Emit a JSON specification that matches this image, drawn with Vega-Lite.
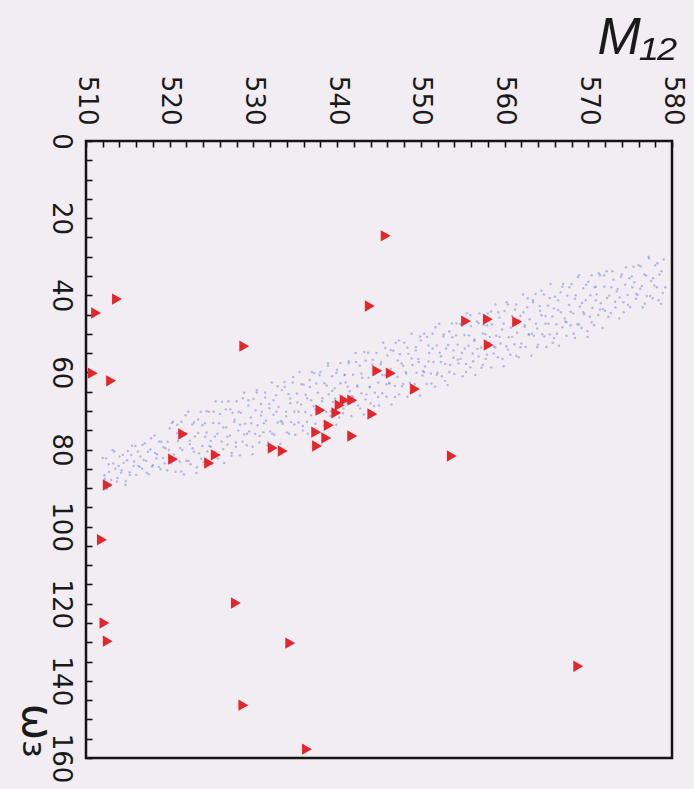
{
"$schema": "https://vega.github.io/schema/vega-lite/v6.json",
"width": 586, "height": 617,
"autosize": {"type": "none"},
"padding": {"left": 86, "top": 141, "right": 22, "bottom": 31},
"background": "#f1edf2",
"config": {"view": {"stroke": "#141414", "strokeWidth": 2.5}},
"datasets": {
 "cloud": [
{"m":512.0,"w":82.2},{"m":512.2,"w":86.7},{"m":512.5,"w":90.2},{"m":512.7,"w":83.8},{"m":513.0,"w":87.9},{"m":513.2,"w":80.2},{"m":513.5,"w":85.0},{"m":513.7,"w":88.3},{"m":514.0,"w":81.8},{"m":514.2,"w":86.0},{"m":514.5,"w":83.5},{"m":514.7,"w":89.2},{"m":515.0,"w":80.4},{"m":515.2,"w":85.9},{"m":515.5,"w":79.0},{"m":515.7,"w":84.3},{"m":516.0,"w":86.6},{"m":516.2,"w":80.6},{"m":516.5,"w":81.8},{"m":516.7,"w":85.0},{"m":517.0,"w":78.4},{"m":517.2,"w":82.9},{"m":517.5,"w":86.4},{"m":517.7,"w":80.0},{"m":518.0,"w":84.1},{"m":518.2,"w":76.4},{"m":518.5,"w":81.2},{"m":518.7,"w":84.5},{"m":519.0,"w":78.0},{"m":519.2,"w":82.2},{"m":519.5,"w":79.7},{"m":519.7,"w":85.4},
{"m":520.0,"w":74.5},{"m":520.2,"w":83.6},{"m":520.4,"w":72.8},
{"m":520.5,"w":81.3},{"m":520.7,"w":85.8},{"m":520.9,"w":75.8},
{"m":521.0,"w":77.8},{"m":521.2,"w":83.1},{"m":521.4,"w":72.8},
{"m":521.5,"w":80.1},{"m":521.7,"w":86.5},{"m":521.9,"w":75.8},
{"m":522.0,"w":82.9},{"m":522.2,"w":70.2},{"m":522.4,"w":78.6},
{"m":522.5,"w":83.8},{"m":522.7,"w":73.5},{"m":522.9,"w":80.6},
{"m":523.0,"w":76.6},{"m":523.2,"w":86.1},{"m":523.4,"w":72.2},
{"m":523.5,"w":81.0},{"m":523.7,"w":70.2},{"m":523.9,"w":79.1},
{"m":524.0,"w":83.2},{"m":524.2,"w":73.2},{"m":524.4,"w":75.6},
{"m":524.5,"w":80.5},{"m":524.7,"w":70.2},{"m":524.9,"w":77.8},
{"m":525.0,"w":83.8},{"m":525.2,"w":73.1},{"m":525.4,"w":80.6},
{"m":525.5,"w":67.5},{"m":525.7,"w":75.9},{"m":525.9,"w":81.5},
{"m":526.0,"w":70.8},{"m":526.2,"w":77.9},{"m":526.4,"w":74.3},
{"m":526.5,"w":83.5},{"m":526.7,"w":69.6},{"m":526.9,"w":78.7},
{"m":527.0,"w":67.5},{"m":527.2,"w":76.4},{"m":527.4,"w":80.9},
{"m":527.5,"w":70.5},{"m":527.7,"w":72.9},{"m":527.9,"w":78.2},
{"m":528.0,"w":67.5},{"m":528.2,"w":75.1},{"m":528.4,"w":81.5},
{"m":528.5,"w":70.5},{"m":528.7,"w":78.0},{"m":528.9,"w":65.3},
{"m":529.0,"w":73.3},{"m":529.2,"w":78.9},{"m":529.4,"w":68.6},
{"m":529.5,"w":75.3},{"m":529.7,"w":71.7},{"m":529.9,"w":81.2},
{"m":530.0,"w":66.9},{"m":530.2,"w":76.0},{"m":530.4,"w":65.2},
{"m":530.5,"w":73.7},{"m":530.7,"w":78.2},{"m":530.9,"w":68.2},
{"m":531.0,"w":70.2},{"m":531.2,"w":75.5},{"m":531.4,"w":65.2},
{"m":531.5,"w":72.5},{"m":531.7,"w":78.9},{"m":531.9,"w":68.2},
{"m":532.0,"w":75.3},{"m":532.2,"w":62.6},{"m":532.4,"w":71.0},
{"m":532.5,"w":76.2},{"m":532.7,"w":65.9},{"m":532.9,"w":73.0},
{"m":533.0,"w":69.0},{"m":533.2,"w":78.5},{"m":533.4,"w":64.6},
{"m":533.5,"w":73.3},{"m":533.7,"w":62.5},{"m":533.9,"w":71.4},
{"m":534.0,"w":75.6},{"m":534.2,"w":65.6},{"m":534.4,"w":68.0},
{"m":534.5,"w":72.9},{"m":534.7,"w":62.6},{"m":534.9,"w":70.2},
{"m":535.0,"w":76.2},{"m":535.2,"w":65.5},{"m":535.4,"w":73.0},
{"m":535.5,"w":59.9},{"m":535.7,"w":68.3},{"m":535.9,"w":73.9},
{"m":536.0,"w":63.2},{"m":536.2,"w":70.3},{"m":536.4,"w":66.7},
{"m":536.5,"w":75.9},{"m":536.7,"w":62.0},{"m":536.9,"w":71.1},
{"m":537.0,"w":59.9},{"m":537.2,"w":68.8},{"m":537.4,"w":73.3},
{"m":537.5,"w":62.9},{"m":537.7,"w":65.3},{"m":537.9,"w":70.6},
{"m":538.0,"w":59.9},{"m":538.2,"w":67.5},{"m":538.4,"w":73.9},
{"m":538.5,"w":62.8},{"m":538.7,"w":70.3},{"m":538.9,"w":57.6},
{"m":539.0,"w":65.7},{"m":539.2,"w":71.3},{"m":539.4,"w":61.0},
{"m":539.5,"w":67.7},{"m":539.7,"w":64.1},{"m":539.9,"w":73.6},
{"m":540.0,"w":59.3},{"m":540.2,"w":68.4},{"m":540.4,"w":57.6},
{"m":540.5,"w":66.1},{"m":540.7,"w":70.6},{"m":540.9,"w":60.6},
{"m":541.0,"w":62.6},{"m":541.2,"w":67.9},{"m":541.4,"w":57.6},
{"m":541.5,"w":64.9},{"m":541.7,"w":71.3},{"m":541.9,"w":60.6},
{"m":542.0,"w":67.7},{"m":542.2,"w":55.0},{"m":542.4,"w":63.4},
{"m":542.5,"w":68.6},{"m":542.7,"w":58.3},{"m":542.9,"w":65.4},
{"m":543.0,"w":61.4},{"m":543.2,"w":70.9},{"m":543.4,"w":57.0},
{"m":543.5,"w":65.7},{"m":543.7,"w":54.9},{"m":543.9,"w":63.8},
{"m":544.0,"w":68.0},{"m":544.2,"w":58.0},{"m":544.4,"w":60.4},
{"m":544.5,"w":65.3},{"m":544.7,"w":55.0},{"m":544.9,"w":62.6},
{"m":545.0,"w":68.6},{"m":545.2,"w":57.9},{"m":545.4,"w":65.4},
{"m":545.5,"w":52.3},{"m":545.7,"w":60.7},{"m":545.9,"w":66.3},
{"m":546.0,"w":55.6},{"m":546.2,"w":62.7},{"m":546.4,"w":59.1},
{"m":546.5,"w":68.3},{"m":546.7,"w":54.4},{"m":546.9,"w":63.5},
{"m":547.0,"w":52.3},{"m":547.2,"w":61.2},{"m":547.4,"w":65.7},
{"m":547.5,"w":55.3},{"m":547.7,"w":57.7},{"m":547.9,"w":63.0},
{"m":548.0,"w":52.3},{"m":548.2,"w":59.9},{"m":548.4,"w":66.3},
{"m":548.5,"w":55.2},{"m":548.7,"w":62.7},{"m":548.9,"w":50.0},
{"m":549.0,"w":58.1},{"m":549.2,"w":63.7},{"m":549.4,"w":53.4},
{"m":549.5,"w":60.1},{"m":549.7,"w":56.5},{"m":549.9,"w":66.0},
{"m":550.0,"w":51.7},{"m":550.2,"w":60.8},{"m":550.4,"w":50.0},
{"m":550.5,"w":58.5},{"m":550.7,"w":63.0},{"m":550.9,"w":53.0},
{"m":551.0,"w":55.0},{"m":551.2,"w":60.3},{"m":551.4,"w":50.0},
{"m":551.5,"w":57.3},{"m":551.7,"w":63.7},{"m":551.9,"w":53.0},
{"m":552.0,"w":60.1},{"m":552.2,"w":47.4},{"m":552.4,"w":55.8},
{"m":552.5,"w":61.0},{"m":552.7,"w":50.7},{"m":552.9,"w":57.8},
{"m":553.0,"w":53.8},{"m":553.2,"w":63.3},{"m":553.4,"w":49.4},
{"m":553.5,"w":58.1},{"m":553.7,"w":47.3},{"m":553.9,"w":56.2},
{"m":554.0,"w":60.4},{"m":554.2,"w":50.4},{"m":554.4,"w":52.8},
{"m":554.5,"w":57.7},{"m":554.7,"w":47.4},{"m":554.9,"w":55.0},
{"m":555.0,"w":61.0},{"m":555.2,"w":50.3},{"m":555.4,"w":57.8},
{"m":555.5,"w":44.7},{"m":555.7,"w":53.1},{"m":555.9,"w":58.7},
{"m":556.0,"w":48.0},{"m":556.2,"w":55.1},{"m":556.4,"w":51.5},
{"m":556.5,"w":60.7},{"m":556.7,"w":46.8},{"m":556.9,"w":55.9},
{"m":557.0,"w":44.7},{"m":557.2,"w":53.6},{"m":557.4,"w":58.1},
{"m":557.5,"w":47.7},{"m":557.7,"w":50.1},{"m":557.9,"w":55.4},
{"m":558.0,"w":44.7},{"m":558.2,"w":52.3},{"m":558.4,"w":58.7},
{"m":558.5,"w":47.6},{"m":558.7,"w":55.1},{"m":558.9,"w":42.4},
{"m":559.0,"w":50.5},{"m":559.2,"w":56.1},{"m":559.4,"w":45.8},
{"m":559.5,"w":52.5},{"m":559.7,"w":48.9},{"m":559.9,"w":58.4},
{"m":560.0,"w":44.1},{"m":560.2,"w":53.2},{"m":560.4,"w":42.4},
{"m":560.5,"w":50.9},{"m":560.7,"w":55.4},{"m":560.9,"w":45.4},
{"m":561.0,"w":47.4},{"m":561.2,"w":52.7},{"m":561.4,"w":42.4},
{"m":561.5,"w":49.7},{"m":561.7,"w":56.1},{"m":561.9,"w":45.4},
{"m":562.0,"w":52.5},{"m":562.2,"w":39.8},{"m":562.4,"w":48.2},
{"m":562.5,"w":53.4},{"m":562.7,"w":43.1},{"m":562.9,"w":50.2},
{"m":563.0,"w":46.2},{"m":563.2,"w":55.7},{"m":563.4,"w":41.8},
{"m":563.5,"w":50.5},{"m":563.7,"w":39.7},{"m":563.9,"w":48.6},
{"m":564.0,"w":52.8},{"m":564.2,"w":42.8},{"m":564.4,"w":45.2},
{"m":564.5,"w":50.1},{"m":564.7,"w":39.8},{"m":564.9,"w":47.4},
{"m":565.0,"w":53.4},{"m":565.2,"w":42.7},{"m":565.4,"w":50.2},
{"m":565.5,"w":37.1},{"m":565.7,"w":45.5},{"m":565.9,"w":51.1},
{"m":566.0,"w":40.4},{"m":566.2,"w":47.5},{"m":566.4,"w":43.9},
{"m":566.5,"w":53.1},{"m":566.7,"w":39.2},{"m":566.9,"w":48.3},
{"m":567.0,"w":37.1},{"m":567.2,"w":46.0},{"m":567.4,"w":50.5},
{"m":567.5,"w":40.1},{"m":567.7,"w":42.5},{"m":567.9,"w":47.8},
{"m":568.0,"w":37.1},{"m":568.2,"w":44.7},{"m":568.4,"w":51.1},
{"m":568.5,"w":40.0},{"m":568.7,"w":47.5},{"m":568.9,"w":34.8},
{"m":569.0,"w":42.9},{"m":569.2,"w":48.5},{"m":569.4,"w":38.2},
{"m":569.5,"w":44.9},{"m":569.7,"w":41.3},{"m":569.9,"w":50.8},
{"m":570.0,"w":36.5},{"m":570.2,"w":45.6},{"m":570.4,"w":34.8},
{"m":570.5,"w":43.3},{"m":570.7,"w":47.8},{"m":570.9,"w":37.8},
{"m":571.0,"w":39.8},{"m":571.2,"w":45.1},{"m":571.4,"w":34.8},
{"m":571.5,"w":42.1},{"m":571.7,"w":48.5},{"m":571.9,"w":37.8},
{"m":572.0,"w":44.0},{"m":572.2,"w":33.8},{"m":572.5,"w":40.1},{"m":572.7,"w":44.6},{"m":573.0,"w":36.0},{"m":573.2,"w":41.7},{"m":573.5,"w":38.4},{"m":573.7,"w":46.0},{"m":574.0,"w":34.6},{"m":574.2,"w":41.8},{"m":574.5,"w":32.8},{"m":574.7,"w":39.9},{"m":575.0,"w":43.1},{"m":575.2,"w":35.1},{"m":575.5,"w":36.6},{"m":575.7,"w":40.9},{"m":576.0,"w":32.2},{"m":576.2,"w":38.3},{"m":576.5,"w":43.1},{"m":576.7,"w":34.6},{"m":577.0,"w":40.2},{"m":577.2,"w":30.0},{"m":577.5,"w":36.3},{"m":577.7,"w":40.8},{"m":578.0,"w":32.2},{"m":578.2,"w":37.9},{"m":578.5,"w":34.6},{"m":578.7,"w":42.2},{"m":579.0,"w":30.7},{"m":579.2,"w":37.9},
{"m":512.25,"w":87.6},{"m":512.4,"w":82.3},{"m":512.75,"w":85.8},{"m":512.9,"w":89.4},{"m":513.25,"w":83.6},{"m":513.4,"w":80.5},{"m":513.75,"w":87.4},{"m":513.9,"w":84.3},{"m":514.25,"w":85.4},{"m":514.4,"w":81.4},{"m":514.75,"w":88.2},{"m":514.9,"w":82.8},{"m":515.25,"w":86.6},{"m":515.4,"w":81.4},{"m":515.75,"w":83.1},{"m":515.9,"w":79.1},{"m":516.25,"w":84.3},{"m":516.4,"w":84.5},{"m":516.75,"w":78.8},{"m":516.9,"w":82.7},{"m":517.25,"w":86.0},{"m":517.4,"w":80.6},{"m":517.75,"w":77.1},{"m":517.9,"w":84.4},{"m":518.25,"w":80.9},{"m":518.4,"w":82.3},{"m":518.75,"w":77.9},{"m":518.9,"w":85.1},{"m":519.25,"w":79.4},{"m":519.4,"w":83.6},{"m":519.75,"w":78.0},{"m":519.9,"w":80.1},
{"m":520.25,"w":73.1},{"m":520.4,"w":82.5},{"m":520.75,"w":82.3},{"m":520.9,"w":73.6},{"m":521.25,"w":79.6},{"m":521.4,"w":85.7},{"m":521.75,"w":76.3},{"m":521.9,"w":71.1},{"m":522.25,"w":83.0},{"m":522.4,"w":77.7},{"m":522.75,"w":79.7},{"m":522.9,"w":73.0},{"m":523.25,"w":84.6},{"m":523.4,"w":75.7},{"m":523.75,"w":82.4},{"m":523.9,"w":73.7},{"m":524.25,"w":76.7},{"m":524.4,"w":70.1},{"m":524.75,"w":79.1},{"m":524.9,"w":79.3},
{"m":525.25,"w":70.2},{"m":525.4,"w":76.6},{"m":525.75,"w":82.3},{"m":525.9,"w":73.2},{"m":526.25,"w":67.6},{"m":526.4,"w":79.9},{"m":526.75,"w":74.3},{"m":526.9,"w":76.7},{"m":527.25,"w":69.6},{"m":527.4,"w":81.6},{"m":527.75,"w":72.3},{"m":527.9,"w":79.3},{"m":528.25,"w":70.2},{"m":528.4,"w":73.6},{"m":528.75,"w":66.7},{"m":528.9,"w":76.1},{"m":529.25,"w":75.9},{"m":529.4,"w":67.2},{"m":529.75,"w":73.2},{"m":529.9,"w":79.3},
{"m":530.25,"w":69.8},{"m":530.4,"w":64.6},{"m":530.75,"w":76.5},{"m":530.9,"w":71.2},{"m":531.25,"w":73.2},{"m":531.4,"w":66.5},{"m":531.75,"w":78.2},{"m":531.9,"w":69.3},{"m":532.25,"w":75.9},{"m":532.4,"w":67.2},{"m":532.75,"w":70.2},{"m":532.9,"w":63.6},{"m":533.25,"w":72.6},{"m":533.4,"w":72.8},{"m":533.75,"w":63.8},{"m":533.9,"w":70.2},{"m":534.25,"w":75.9},{"m":534.4,"w":66.8},{"m":534.75,"w":61.2},{"m":534.9,"w":73.5},
{"m":535.25,"w":67.8},{"m":535.4,"w":70.2},{"m":535.75,"w":63.1},{"m":535.9,"w":75.1},{"m":536.25,"w":65.8},{"m":536.4,"w":72.8},{"m":536.75,"w":63.8},{"m":536.9,"w":67.2},{"m":537.25,"w":60.2},{"m":537.4,"w":69.6},{"m":537.75,"w":69.4},{"m":537.9,"w":60.7},{"m":538.25,"w":66.7},{"m":538.4,"w":72.8},{"m":538.75,"w":63.4},{"m":538.9,"w":58.2},{"m":539.25,"w":70.1},{"m":539.4,"w":64.8},{"m":539.75,"w":66.8},{"m":539.9,"w":60.1},
{"m":540.25,"w":71.7},{"m":540.4,"w":62.8},{"m":540.75,"w":69.4},{"m":540.9,"w":60.7},{"m":541.25,"w":63.7},{"m":541.4,"w":57.1},{"m":541.75,"w":66.2},{"m":541.9,"w":66.4},{"m":542.25,"w":57.3},{"m":542.4,"w":63.7},{"m":542.75,"w":69.4},{"m":542.9,"w":60.3},{"m":543.25,"w":54.7},{"m":543.4,"w":67.0},{"m":543.75,"w":61.4},{"m":543.9,"w":63.8},{"m":544.25,"w":56.7},{"m":544.4,"w":68.7},{"m":544.75,"w":59.4},{"m":544.9,"w":66.4},
{"m":545.25,"w":57.3},{"m":545.4,"w":60.7},{"m":545.75,"w":53.7},{"m":545.9,"w":63.1},{"m":546.25,"w":62.9},{"m":546.4,"w":54.2},{"m":546.75,"w":60.3},{"m":546.9,"w":66.4},{"m":547.25,"w":56.9},{"m":547.4,"w":51.7},{"m":547.75,"w":63.6},{"m":547.9,"w":58.3},{"m":548.25,"w":60.3},{"m":548.4,"w":53.6},{"m":548.75,"w":65.3},{"m":548.9,"w":56.4},{"m":549.25,"w":63.0},{"m":549.4,"w":54.3},{"m":549.75,"w":57.3},{"m":549.9,"w":50.7},
{"m":550.25,"w":59.7},{"m":550.4,"w":59.9},{"m":550.75,"w":50.8},{"m":550.9,"w":57.2},{"m":551.25,"w":62.9},{"m":551.4,"w":53.8},{"m":551.75,"w":48.3},{"m":551.9,"w":60.6},{"m":552.25,"w":54.9},{"m":552.4,"w":57.3},{"m":552.75,"w":50.2},{"m":552.9,"w":62.2},{"m":553.25,"w":52.9},{"m":553.4,"w":59.9},{"m":553.75,"w":50.9},{"m":553.9,"w":54.3},{"m":554.25,"w":47.3},{"m":554.4,"w":56.7},{"m":554.75,"w":56.5},{"m":554.9,"w":47.8},
{"m":555.25,"w":53.8},{"m":555.4,"w":59.9},{"m":555.75,"w":50.4},{"m":555.9,"w":45.2},{"m":556.25,"w":57.1},{"m":556.4,"w":51.8},{"m":556.75,"w":53.9},{"m":556.9,"w":47.2},{"m":557.25,"w":58.8},{"m":557.4,"w":49.9},{"m":557.75,"w":56.5},{"m":557.9,"w":47.8},{"m":558.25,"w":50.8},{"m":558.4,"w":44.2},{"m":558.75,"w":53.3},{"m":558.9,"w":53.5},{"m":559.25,"w":44.4},{"m":559.4,"w":50.8},{"m":559.75,"w":56.5},{"m":559.9,"w":47.4},
{"m":560.25,"w":41.8},{"m":560.4,"w":54.1},{"m":560.75,"w":48.4},{"m":560.9,"w":50.8},{"m":561.25,"w":43.7},{"m":561.4,"w":55.7},{"m":561.75,"w":46.5},{"m":561.9,"w":53.5},{"m":562.25,"w":44.4},{"m":562.4,"w":47.8},{"m":562.75,"w":40.8},{"m":562.9,"w":50.2},{"m":563.25,"w":50.0},{"m":563.4,"w":41.3},{"m":563.75,"w":47.4},{"m":563.9,"w":53.5},{"m":564.25,"w":44.0},{"m":564.4,"w":38.8},{"m":564.75,"w":50.7},{"m":564.9,"w":45.4},
{"m":565.25,"w":47.4},{"m":565.4,"w":40.7},{"m":565.75,"w":52.3},{"m":565.9,"w":43.4},{"m":566.25,"w":50.0},{"m":566.4,"w":41.3},{"m":566.75,"w":44.4},{"m":566.9,"w":37.8},{"m":567.25,"w":46.8},{"m":567.4,"w":47.0},{"m":567.75,"w":37.9},{"m":567.9,"w":44.3},{"m":568.25,"w":50.0},{"m":568.4,"w":40.9},{"m":568.75,"w":35.3},{"m":568.9,"w":47.6},{"m":569.25,"w":42.0},{"m":569.4,"w":44.4},{"m":569.75,"w":37.3},{"m":569.9,"w":49.3},
{"m":570.25,"w":40.0},{"m":570.4,"w":47.0},{"m":570.75,"w":37.9},{"m":570.9,"w":41.3},{"m":571.25,"w":34.3},{"m":571.4,"w":43.7},{"m":571.75,"w":43.6},{"m":571.9,"w":34.9},
{"m":572.25,"w":40.7},{"m":572.4,"w":45.6},{"m":572.75,"w":37.9},{"m":572.9,"w":33.8},{"m":573.25,"w":43.2},{"m":573.4,"w":39.0},{"m":573.75,"w":40.6},{"m":573.9,"w":35.2},{"m":574.25,"w":44.4},{"m":574.4,"w":37.3},{"m":574.75,"w":42.5},{"m":574.9,"w":35.6},{"m":575.25,"w":37.9},{"m":575.4,"w":32.6},{"m":575.75,"w":39.7},{"m":575.9,"w":39.9},{"m":576.25,"w":32.5},{"m":576.4,"w":37.6},{"m":576.75,"w":42.2},{"m":576.9,"w":34.9},{"m":577.25,"w":30.4},{"m":577.4,"w":40.2},{"m":577.75,"w":35.6},{"m":577.9,"w":37.5},{"m":578.25,"w":31.7},{"m":578.4,"w":41.3},{"m":578.75,"w":33.8},{"m":578.9,"w":39.4}
 ],
 "pts": [
{"m":545.8,"w":24.6},{"m":543.9,"w":42.8},{"m":513.7,"w":41.0},{"m":511.2,"w":44.6},{"m":555.4,"w":46.7},{"m":558.0,"w":46.2},{"m":561.5,"w":46.9},{"m":528.9,"w":53.2},{"m":558.1,"w":52.9},{"m":510.8,"w":60.2},{"m":513.0,"w":62.2},{"m":544.8,"w":59.6},{"m":546.4,"w":60.2},{"m":549.3,"w":64.3},{"m":540.9,"w":67.2},{"m":541.8,"w":67.2},{"m":540.3,"w":68.5},{"m":538.0,"w":69.8},{"m":539.9,"w":70.5},{"m":544.2,"w":70.8},{"m":539.0,"w":73.7},{"m":537.5,"w":75.5},{"m":538.7,"w":77.0},{"m":541.8,"w":76.5},{"m":537.6,"w":79.1},{"m":521.6,"w":76.0},{"m":532.3,"w":79.6},{"m":533.5,"w":80.4},{"m":525.5,"w":81.4},{"m":524.7,"w":83.5},{"m":520.4,"w":82.5},{"m":553.7,"w":81.7},{"m":512.6,"w":89.2},{"m":511.9,"w":103.4},{"m":527.9,"w":119.8},{"m":512.2,"w":125.0},{"m":512.6,"w":129.7},{"m":534.4,"w":130.2},{"m":568.8,"w":136.2},{"m":528.8,"w":146.3},{"m":536.4,"w":157.7}
 ]
},
"encoding": {
 "x": {"field": "m", "type": "quantitative", "scale": {"domain": [510, 580], "nice": false, "zero": false},
  "axis": {"orient": "top", "grid": false, "domain": false, "tickCount": 35, "tickSize": -6, "tickColor": "#141414", "tickWidth": 1.6,
   "labelExpr": "datum.value % 10 === 0 ? datum.label : ''", "labelOverlap": false, "labelFlush": false,
   "labelAngle": 90, "labelAlign": "right", "labelBaseline": "middle", "labelPadding": 22, "labelFontSize": 26, "labelFont": "DejaVu Sans", "labelColor": "#1a1a1a",
   "title": "M₁₂", "titleColor": "#1a1a1a", "titleFont": "Liberation Sans", "titleFontStyle": "italic", "titleFontWeight": "normal", "titleFontSize": 52, "titleAngle": 0, "titleAlign": "left", "titleBaseline": "alphabetic", "titleX": 511, "titleY": -88}},
 "y": {"field": "w", "type": "quantitative", "scale": {"domain": [0, 160], "nice": false, "zero": false, "reverse": true},
  "axis": {"orient": "left", "grid": false, "domain": false, "tickCount": 32, "tickSize": -6, "tickColor": "#141414", "tickWidth": 1.6,
   "labelExpr": "datum.value % 20 === 0 ? datum.label : ''", "labelOverlap": false, "labelFlush": false,
   "labelAngle": 90, "labelAlign": "center", "labelBaseline": "top", "labelPadding": 19, "labelFontSize": 26, "labelFont": "DejaVu Sans", "labelColor": "#1a1a1a",
   "title": "ω₃", "titleColor": "#1a1a1a", "titleFont": "DejaVu Sans", "titleFontWeight": "normal", "titleFontSize": 44, "titleAngle": 90, "titleAlign": "left", "titleBaseline": "alphabetic", "titleX": -64, "titleY": 562}}
},
"layer": [
 {"data": {"name": "cloud"}, "mark": {"type": "circle", "size": 6, "color": "#6f86d6", "opacity": 0.5}},
 {"data": {"name": "pts"}, "mark": {"type": "point", "shape": "triangle-right", "filled": true, "size": 130, "color": "#e3262b", "opacity": 1}}
]
}
